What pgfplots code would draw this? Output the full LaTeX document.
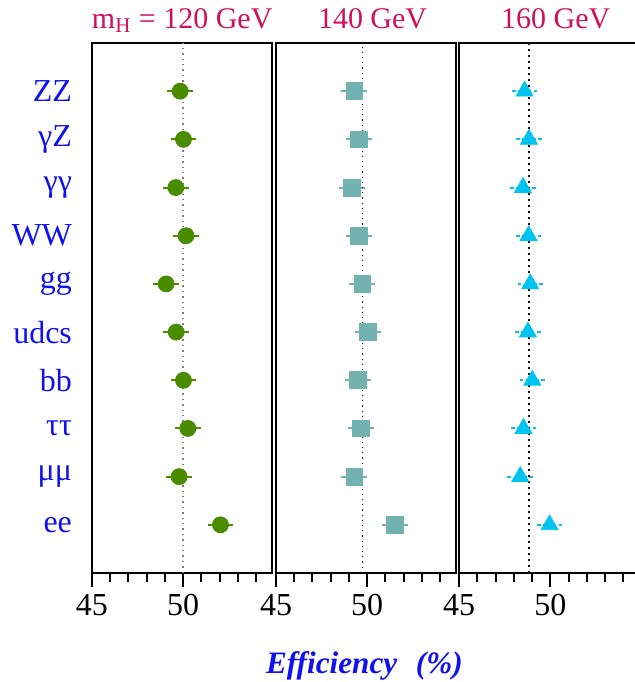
\documentclass[border=0pt]{standalone}
\usepackage{fontspec}
\setmainfont{Liberation Serif}
\usepackage{pgfplots}
\usepackage{pgfplotstable}
\pgfplotsset{compat=1.18}
\definecolor{ttl}{HTML}{D0105A}
\definecolor{lbl}{HTML}{1010F0}
\definecolor{gr}{HTML}{4A8C00}
\definecolor{tl}{HTML}{72B2B0}
\definecolor{cy}{HTML}{00C4F0}
\newcommand{\bigf}{\fontsize{15}{18}\selectfont}
\newcommand{\labf}{\fontsize{16}{19}\selectfont}
\pgfplotsset{panel/.style={scale only axis, width=90.2pt, height=265pt,
  xmin=45, xmax=54.9, ymin=0, ymax=11,
  axis line style={line width=1.1pt},
  xtick={45,50}, minor xtick={46,47,48,49,51,52,53,54},
  xtick pos=left, xtick align=outside,
  major tick length=7pt, minor tick length=4.5pt,
  every tick/.style={black, line width=1pt},
  ticklabel style={font=\labf},
  /pgf/number format/assume math mode=true,
  anchor=south west, clip=false},
  errs/.style={only marks, error bars/.cd, x dir=both, x explicit,
  error bar style={line width=1pt}, error mark=none, /pgfplots/.cd}}

\pgfplotstableread{
y x e
10 49.84 0.7
9 50.02 0.7
8 49.60 0.7
7 50.16 0.7
6 49.07 0.7
5 49.62 0.7
4 50.02 0.7
3 50.26 0.7
2 49.78 0.7
1 52.05 0.7
}\tA
\pgfplotstableread{
y x e
10 49.30 0.72
9 49.57 0.72
8 49.15 0.72
7 49.57 0.72
6 49.74 0.72
5 50.03 0.72
4 49.51 0.72
3 49.68 0.72
2 49.30 0.72
1 51.53 0.72
}\tB
\pgfplotstableread{
y x e
10 48.59 0.7
9 48.83 0.7
8 48.50 0.7
7 48.81 0.7
6 48.90 0.7
5 48.77 0.7
4 49.01 0.7
3 48.53 0.7
2 48.35 0.7
1 49.96 0.7
}\tC
\begin{document}
\begin{tikzpicture}
\useasboundingbox (0,-54.5pt) rectangle (317pt,286.5pt);
% panel 1
\begin{axis}[panel, at={(46pt,0)},
  ytick={1,...,10},
  yticklabels={ee,μμ,ττ,bb,udcs,gg,WW,γγ,γZ,ZZ},
  y tick style={draw=none},
  yticklabel style={text=lbl, font=\labf, anchor=east, xshift=-6.5pt}]
\addplot[errs, mark=*, mark size=4pt, color=gr] table[x=x,y=y,x error=e] {\tA};
\draw[gray, dotted, line width=0.7pt] (axis cs:50,0) -- (axis cs:50,11);
\node[anchor=base, text=ttl, font=\bigf, yshift=7.5pt] at (axis cs:49.95,11) {m\textsubscript{H} = 120 GeV};
\end{axis}
% panel 2
\begin{axis}[panel, at={(138pt,0)}, ytick=\empty]
\addplot[errs, mark=square*, mark size=4.2pt, color=tl] table[x=x,y=y,x error=e] {\tB};
\draw[black, dotted, line width=0.6pt] (axis cs:49.74,0) -- (axis cs:49.74,11);
\node[anchor=base, text=ttl, font=\bigf, yshift=7.5pt] at (axis cs:50.3,11) {140 GeV};
\node[anchor=base, text=lbl, font=\fontsize{15.6}{18}\selectfont\bfseries\itshape, yshift=-50pt] at (axis cs:49.85,0) {Efficiency\hspace{0.6em}(\%)};
\end{axis}
% panel 3
\begin{axis}[panel, at={(229.6pt,0)}, ytick=\empty]
\addplot[errs, mark=triangle*, mark size=4.9pt, color=cy,
  error bars/error bar style={line width=1pt, dash pattern=on 3.3pt off 1.2pt on 3.8pt off 1.2pt on 3.3pt off 0pt}]
  table[x=x,y=y,x error=e] {\tC};
\draw[black, dotted, line width=1pt] (axis cs:48.85,0) -- (axis cs:48.85,11);
\node[anchor=base, text=ttl, font=\bigf, yshift=7.5pt] at (axis cs:50.3,11) {160 GeV};
\end{axis}
\end{tikzpicture}
\end{document}
